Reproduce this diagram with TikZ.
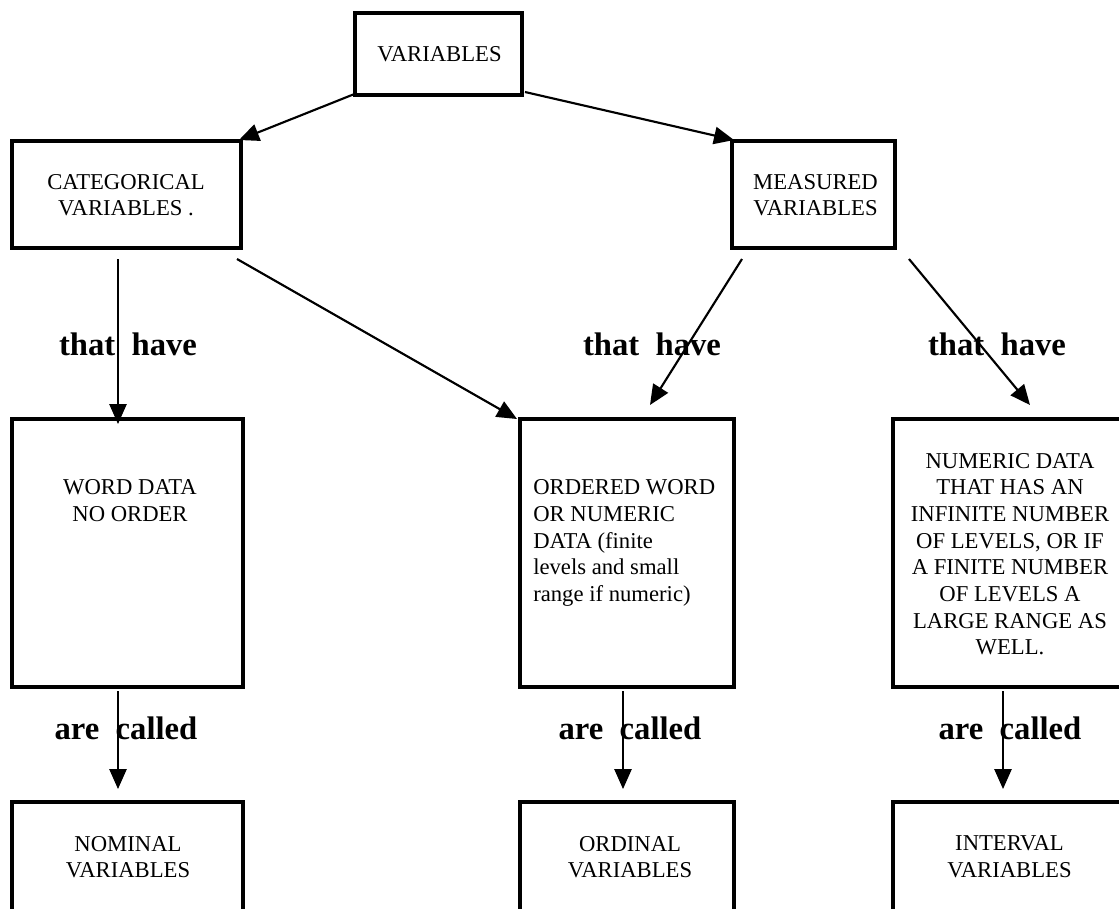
\documentclass[tikz,border=0pt]{standalone}
\usepackage{fontspec}
\setmainfont{Liberation Serif}
\usetikzlibrary{arrows.meta,fit,calc}
\begin{document}
\begin{tikzpicture}[x=0.75pt,y=-0.75pt,
  box/.style={draw, line width=2.4pt, inner sep=0pt, outer sep=0pt, rectangle},
  txt/.style={font=\fontsize{17}{20}\selectfont, align=center, inner sep=0pt},
  lbl/.style={font=\fontsize{24.5}{28}\selectfont\bfseries, inner sep=0pt, anchor=base},
  arr/.style={line width=1.6pt, -{Triangle[length=15pt,width=13pt]}},
  varr/.style={line width=1.2pt, -{Triangle[length=15pt,width=13pt]}}]
\useasboundingbox (0,0) rectangle (1119,908);
\clip (0,0) rectangle (1119,908);

% boxes
\node[box, fit={(355,13) (522,95)}] (var) {};
\node[box, fit={(12,141) (241,248)}] (cat) {};
\node[box, fit={(732,141) (895,248)}] (meas) {};
\node[box, fit={(12,419) (243,687)}] (word) {};
\node[box, fit={(520,419) (734,687)}] (ord) {};
\node[box, fit={(893,419) (1122,687)}] (num) {};
\node[box, fit={(12,802) (243,930)}] (nom) {};
\node[box, fit={(520,802) (734,930)}] (ordl) {};
\node[box, fit={(893,802) (1122,930)}] (intv) {};

% box texts
\node[txt] (varT) at (439.5,54.5) {VARIABLES};
\node[txt] (catT) at (126,195) {CATEGORICAL\\VARIABLES .};
\node[txt] (measT) at (815.5,195) {MEASURED\\VARIABLES};
\node[txt] (wordT) at (130,500.5) {WORD DATA\\NO ORDER};
\node[txt, align=left, anchor=west] (ordT) at (533,543) {ORDERED WORD\\OR NUMERIC\\DATA (finite\\levels and small\\range if numeric)};
\node[txt] (numT) at (1010,554) {NUMERIC DATA\\THAT HAS AN\\INFINITE NUMBER\\OF LEVELS, OR IF\\A FINITE NUMBER\\OF LEVELS A\\LARGE RANGE AS\\WELL.};
\node[txt] (nomT) at (128,857) {NOMINAL\\VARIABLES};
\node[txt] (ordlT) at (630,857) {ORDINAL\\VARIABLES};
\node[txt] (intvT) at (1009.5,857) {INTERVAL\\VARIABLES};

% labels
\node[lbl] (th1) at (128,355) {that\hspace{0.5em}have};
\node[lbl] (th2) at (652,355) {that\hspace{0.5em}have};
\node[lbl] (th3) at (997,355) {that\hspace{0.5em}have};
\node[lbl] (ac1) at (126,739) {are\hspace{0.5em}called};
\node[lbl] (ac2) at (630,739) {are\hspace{0.5em}called};
\node[lbl] (ac3) at (1010,739) {are\hspace{0.5em}called};

% connectors
\draw[arr] ($(var.south west)+(2,-2)$) -- ($(cat.north east)+(-2,-1)$);
\draw[arr] ($(var.south east)+(3,-3)$) -- ($(meas.north west)+(2,-1)$);
\draw[arr] ($(cat.south east)+(-4,11)$) -- ($(ord.north west)+(-3,0)$);
\draw[arr] ($(meas.south west)+(10,11)$) -- ($(ord.north east)+(-84,-14)$);
\draw[arr] ($(meas.south east)+(14,11)$) -- ($(num.north west)+(137,-14)$);
\draw[varr] ($(cat.south west)+(106,11)$) -- ($(word.north west)+(106,5)$);
\draw[varr] ($(word.south west)+(106,4)$) -- ($(nom.north west)+(106,-13)$);
\draw[varr] ($(ord.south west)+(103,4)$) -- ($(ordl.north west)+(103,-13)$);
\draw[varr] ($(num.south west)+(110,4)$) -- ($(intv.north west)+(110,-13)$);
\end{tikzpicture}
\end{document}
